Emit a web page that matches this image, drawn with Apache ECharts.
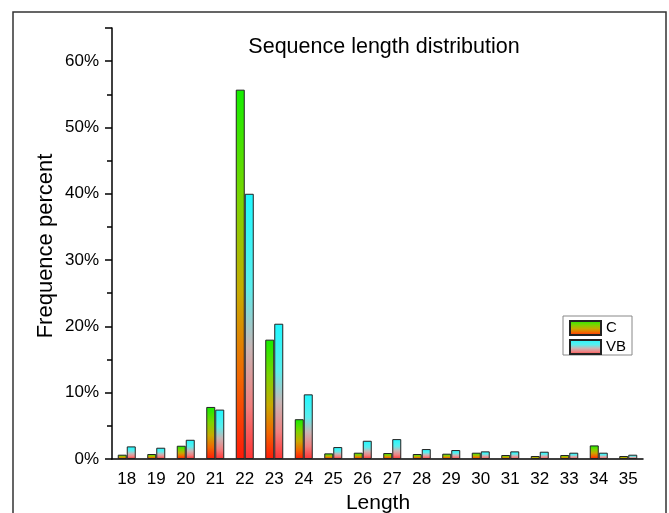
<!DOCTYPE html>
<html>
<head>
<meta charset="utf-8">
<script src="https://cdn.jsdelivr.net/npm/echarts@6/dist/echarts.min.js"></script>
<style>
html,body{margin:0;padding:0;background:#fff;}
#chart{width:669px;height:513px;}
</style>
</head>
<body>
<div id="chart"></div>
<script>
// values, in percent
var lengths=['18','19','20','21','22','23','24','25','26','27','28','29','30','31','32','33','34','35'];
var cValues=[0.65,0.75,2.0,7.85,55.7,18.0,6.0,0.85,0.95,0.9,0.75,0.8,0.95,0.6,0.45,0.6,2.05,0.45];
var vbValues=[1.9,1.7,2.9,7.45,40.0,20.4,9.75,1.8,2.75,3.0,1.5,1.35,1.15,1.15,1.1,0.95,0.95,0.65];
var seriesNames=['C','VB'];

var font='"Liberation Sans", Arial, sans-serif';

function grad(stops){
    return new echarts.graphic.LinearGradient(0,0,0,1,stops.map(function(s){
        return {offset:s[0],color:s[1]};
    }));
}

var cFill=grad([[0,'#14ee00'],[0.3,'#7cd400'],[0.55,'#c8aa00'],[0.78,'#f26600'],[1,'#ff1a08']]);
var vbFill=grad([[0,'#1ff8ff'],[0.35,'#5aeeee'],[0.58,'#c8b6b6'],[0.8,'#f08080'],[1,'#ff3434']]);

var chart=echarts.init(document.getElementById('chart'));
var option={
    animation:false,
    textStyle:{fontFamily:font},
    grid:{left:112,right:26,top:28,bottom:54},
    legend:{
        orient:'vertical',
        left:569,
        top:320,
        padding:0,
        itemWidth:31,
        itemHeight:14,
        itemGap:3,
        icon:'rect',
        data:seriesNames,
        textStyle:{fontSize:15,color:'#000',fontFamily:font}
    },
    xAxis:[
        {
            type:'category',
            data:lengths,
            axisLine:{lineStyle:{color:'#000',width:1.5}},
            axisTick:{alignWithLabel:true,length:7,lineStyle:{color:'#000',width:1.5}},
            axisLabel:{color:'#000',fontSize:17,margin:12,interval:0}
        },
        {
            type:'category',
            data:lengths,
            position:'bottom',
            axisLine:{show:false},
            axisTick:{alignWithLabel:false,interval:0,length:4,lineStyle:{color:'#000',width:1.5}},
            axisLabel:{show:false}
        }
    ],
    yAxis:{
        type:'value',
        min:0,
        max:65,
        interval:10,
        axisLine:{show:true,lineStyle:{color:'#000',width:1.5}},
        axisTick:{show:true,length:7,lineStyle:{color:'#000',width:1.5}},
        minorTick:{show:true,splitNumber:2,length:5,lineStyle:{color:'#000',width:1.5}},
        splitLine:{show:false},
        axisLabel:{
            color:'#000',fontSize:17,margin:13,
            formatter:function(v){return v>60?'':v+'%';}
        }
    },
    graphic:[
        {type:'rect',shape:{x:13,y:12,width:653,height:520},style:{fill:'none',stroke:'#333',lineWidth:1.5},silent:true},
        {type:'text',style:{text:'Sequence length distribution',x:384,y:47,align:'center',verticalAlign:'middle',font:'21.5px '+font,fill:'#000'}},
        {type:'text',style:{text:'Length',x:378,y:503,align:'center',verticalAlign:'middle',font:'21px '+font,fill:'#000'}},
        {type:'text',rotation:Math.PI/2,x:46,y:246,style:{text:'Frequence percent',x:0,y:0,align:'center',verticalAlign:'middle',font:'22px '+font,fill:'#000'}},
        {type:'rect',shape:{x:563,y:316,width:69,height:39},style:{fill:'none',stroke:'#888',lineWidth:1},silent:true,z:-1}
    ],
    series:[
        {
            name:'C',
            type:'bar',
            data:cValues,
            barWidth:9,
            barGap:'0%',
            itemStyle:{color:cFill,borderColor:'#222',borderWidth:1}
        },
        {
            name:'VB',
            type:'bar',
            data:vbValues,
            barWidth:9,
            barGap:'0%',
            itemStyle:{color:vbFill,borderColor:'#222',borderWidth:1}
        }
    ]
};
chart.setOption(option);
</script>
</body>
</html>
